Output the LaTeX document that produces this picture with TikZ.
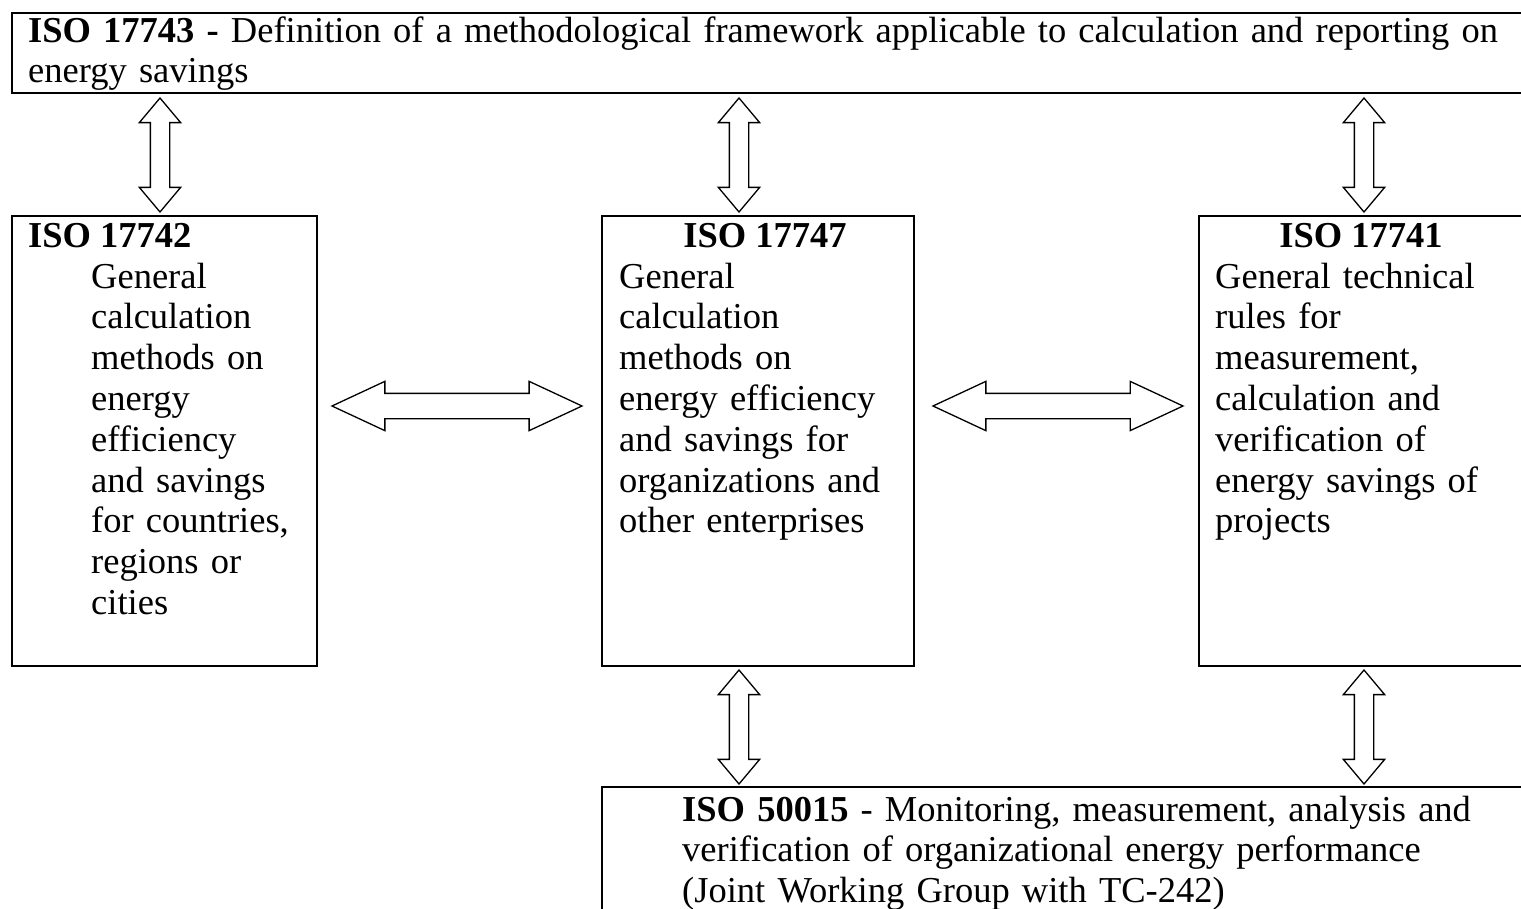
\documentclass[tikz,border=0pt]{standalone}
\usepackage{fontspec}
\setmainfont{Liberation Serif}
\usetikzlibrary{positioning,shapes.arrows}
\tikzset{stdbox/.style={draw,line width=1.6pt,rectangle,inner sep=0pt,anchor=north west},
txt/.style={anchor=base west,inner sep=0pt,align=left,text width=900pt,font=\fontsize{36.5}{40.8}\selectfont},
head/.style={anchor=base,inner sep=0pt,font=\fontsize{36.5}{40.8}\selectfont\bfseries},
vdarr/.style={draw,fill=white,line width=1.3pt,double arrow,rotate=90,inner xsep=0pt,inner ysep=9pt,minimum height=114pt,minimum width=40pt,double arrow head extend=11pt,double arrow tip angle=80},
hdarr/.style={draw,fill=white,line width=1.3pt,double arrow,inner xsep=0pt,inner ysep=12pt,minimum height=250pt,minimum width=48pt,double arrow head extend=12pt,double arrow tip angle=50}}

\begin{document}
\begin{tikzpicture}[x=1pt,y=-1pt]
			\useasboundingbox (0,0) rectangle (1521,908);
			\clip (0,0) rectangle (1521,908);
			% boxes
			\node[stdbox,minimum width=1530pt,minimum height=80pt] (top) at (11,12) {};
			\node[stdbox,minimum width=305pt,minimum height=450pt] (lbox) at (11,215) {};
			\node[stdbox,minimum width=312pt,minimum height=450pt] (mbox) at (601,215) {};
			\node[stdbox,minimum width=340pt,minimum height=450pt] (rbox) at (1198,215) {};
			\node[stdbox,minimum width=940pt,minimum height=140pt] (bbox) at (601,786) {};

			% texts
			\node[txt,text width=1500pt] (toptxt) at (28,42) {\textbf{ISO 17743 -} Definition of a methodological framework applicable to calculation and reporting on\\energy savings};
			\node[head,anchor=base west] (lhead) at (28,247) {ISO 17742};
			\node[txt] (ltxt) at (91,288) {General\\calculation\\methods on\\energy\\efficiency\\and savings\\for countries,\\regions or\\cities};
			\node[head] (mhead) at (765,247) {ISO 17747};
			\node[txt] (mtxt) at (619,288) {General\\calculation\\methods on\\energy efficiency\\and savings for\\organizations and\\other enterprises};
			\node[head] (rhead) at (1361,247) {ISO 17741};
			\node[txt] (rtxt) at (1215,288) {General technical\\rules for\\measurement,\\calculation and\\verification of\\energy savings of\\projects};
			\node[txt] (btxt) at (682,821) {\textbf{ISO 50015} - Monitoring, measurement, analysis and\\verification of organizational energy performance\\(Joint Working Group with TC-242)};

			% block arrows
			\node[vdarr] (ua) at (160,155) {};
			\node[vdarr] (ub) at (739,155) {};
			\node[vdarr] (uc) at (1364,155) {};
			\node[vdarr] (da) at (739,727) {};
			\node[vdarr] (db) at (1364,727) {};
			\node[hdarr] (ha) at (457,406) {};
			\node[hdarr] (hb) at (1058,406) {};
		\end{tikzpicture}
\end{document}
